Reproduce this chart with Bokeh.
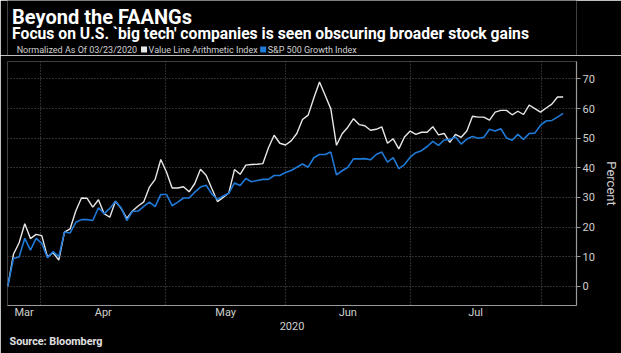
from bokeh.plotting import figure
from bokeh.models import Label, FixedTicker, Range1d, ColumnDataSource, Title
from bokeh.layouts import column
from bokeh.embed import file_html
from bokeh.resources import INLINE

# Trading-day series, normalized to 03/23/2020 (percent change)
value_line = [0, 10.8, 14.7, 21.1, 16.1, 17.5, 17.1, 9.9, 11.3, 8.8, 18.3, 19.4, 25.4, 29.8, 29.7,
              26.7, 29.2, 24.5, 23.3, 28.7, 26.3, 22.9, 25.4, 27.1, 28.5, 33.5,
              36.1, 42.8, 38.6, 33.2, 33.2, 33.6, 31.9, 34.7, 39.5, 37.5, 33.0, 28.6, 30.0, 31.5,
              39.4, 37.8, 40.9, 41.1, 41.2, 41.4, 46.8, 51.0, 48.3, 47.7, 49.1,
              51.6, 56.3, 57.8, 63.6, 69.0, 64.5, 59.9, 47.6, 51.5, 53.7, 56.6, 54.6, 54.2, 52.7,
              53.0, 53.8, 48.3, 49.8, 46.4, 50.4, 52.4, 51.3, 52.0, 52.0,
              53.9, 51.1, 51.6, 48.6, 51.3, 50.3, 52.4, 57.4, 57.1, 57.1, 56.1, 58.8, 59.4, 59.4,
              57.9, 59.1, 58.0, 61.2, 60.0, 58.8, 60.2, 61.5, 63.9, 63.9]
sp500_growth = [0, 9.4, 9.9, 16.2, 12.2, 16.2, 14.5, 9.6, 11.7, 10.0, 18.3, 18.0, 21.6, 22.5, 22.5,
                22.2, 26.5, 24.5, 26.3, 28.7, 26.5, 22.2, 25.3, 25.4, 27.0, 28.4,
                26.9, 31.0, 31.0, 27.2, 28.4, 29.8, 29.8, 31.8, 33.5, 34.1, 31.2, 29.3, 30.5, 31.4,
                34.9, 34.0, 36.4, 35.3, 35.7, 36.1, 36.1, 37.4, 37.4, 38.4, 39.1,
                40.2, 41.3, 40.2, 43.4, 44.5, 44.5, 45.3, 37.6, 39.0, 40.2, 43.0, 43.0, 43.1, 42.7,
                44.5, 45.3, 41.9, 43.4, 39.7, 41.1, 43.6, 45.1, 45.8, 47.2,
                48.9, 47.6, 49.4, 49.6, 50.4, 48.0, 49.7, 50.6, 50.0, 50.3, 53.0, 52.4, 53.2, 50.1,
                49.3, 51.3, 49.6, 51.6, 51.7, 54.4, 55.8, 56.0, 57.1, 58.4]
day_index = list(range(len(value_line)))

series_names = ["Value Line Arithmetic Index", "S&P 500 Growth Index"]
month_labels = ["Mar", "Apr", "May", "Jun", "Jul"]
month_bounds = [5.8, 27.9, 49.0, 71.0, 94.1]      # month boundaries (trading-day index)
y_ticks = [0, 10, 20, 30, 40, 50, 60, 70]

BG = "#000000"
WHITE_LINE = "#e8e8e8"
BLUE_LINE = "#1f79d6"
GRID = "#5a5a5a"
TXT = "#d0d0d0"
FONT = "Roboto"
W = 621

# ---------------- header (title, subtitle, legend) ----------------
HH = 55
hdr = figure(width=W, height=HH, output_backend="svg", toolbar_location=None,
             x_range=Range1d(0, W), y_range=Range1d(HH, 0),
             x_axis_type=None, y_axis_type=None, min_border=0)
hdr.background_fill_color = BG
hdr.border_fill_color = BG
hdr.outline_line_color = None
hdr.xgrid.visible = False
hdr.ygrid.visible = False

def put(fig, text, x, y, size, color, style="normal", baseline="alphabetic"):
    fig.add_layout(Label(x=x, y=y, text=text, text_font=FONT, text_font_size=size,
                         text_color=color, text_font_style=style, text_baseline=baseline))

put(hdr, "Beyond the FAANGs", 5, 16, "20px", "#ffffff", "bold")
put(hdr, "Focus on U.S. `big tech' companies is seen obscuring broader stock gains", 5, 33,
    "15.7px", "#ffffff", "bold")
put(hdr, "Normalized As Of 03/23/2020", 10, 49, "9px", TXT, baseline="middle")
hdr.scatter([149], [49], marker="square", size=6, fill_color=WHITE_LINE, line_color=None)
put(hdr, series_names[0], 154, 49, "9px", TXT, baseline="middle")
hdr.scatter([279], [49], marker="square", size=6, fill_color=BLUE_LINE, line_color=None)
put(hdr, series_names[1], 284, 49, "9px", TXT, baseline="middle")

# ---------------- main chart ----------------
x_start, x_end = -0.05, 100.35
starts = [x_start] + month_bounds[:-1]
month_centers = [(a + b) / 2 for a, b in zip(starts, month_bounds)]

p = figure(width=W, height=353 - HH, output_backend="svg", toolbar_location=None,
           x_range=Range1d(x_start, x_end), y_range=Range1d(-6.5, 75.9),
           y_axis_location="right",
           min_border_left=7, min_border_right=44, min_border_top=6, min_border_bottom=48)
p.background_fill_color = BG
p.border_fill_color = BG
p.outline_line_color = None

src = ColumnDataSource(dict(x=day_index, v=value_line, s=sp500_growth))
p.line("x", "v", source=src, line_color=WHITE_LINE, line_width=1.4)
p.line("x", "s", source=src, line_color=BLUE_LINE, line_width=1.6)

p.xgrid.ticker = FixedTicker(ticks=month_bounds)
p.ygrid.ticker = FixedTicker(ticks=y_ticks)
for g in (p.xgrid, p.ygrid):
    g.grid_line_color = GRID
    g.grid_line_dash = "1 2"
    g.grid_line_width = 1

xa = p.xaxis[0]
xa.ticker = FixedTicker(ticks=month_centers)
xa.major_label_overrides = {c: m for c, m in zip(month_centers, month_labels)}
xa.major_tick_out = 0
xa.major_tick_in = 0
xa.minor_tick_out = 0
xa.minor_tick_in = 0
xa.axis_line_color = "#9a9a9a"
xa.axis_line_width = 1.2
xa.major_label_text_color = TXT
xa.major_label_text_font = FONT
xa.major_label_text_font_size = "11px"
xa.major_label_standoff = 0
xa.axis_label = "2020"
xa.axis_label_text_color = TXT
xa.axis_label_text_font = FONT
xa.axis_label_text_font_size = "11px"
xa.axis_label_text_font_style = "normal"
xa.axis_label_standoff = 0

ya = p.yaxis[0]
ya.ticker = FixedTicker(ticks=y_ticks)
ya.major_tick_out = 4
ya.major_tick_in = 0
ya.minor_tick_out = 0
ya.minor_tick_in = 0
ya.axis_line_color = "#9a9a9a"
ya.axis_line_width = 1.2
ya.major_tick_line_color = "#9a9a9a"
ya.major_label_text_color = TXT
ya.major_label_text_font = FONT
ya.major_label_text_font_size = "11px"
ya.major_label_standoff = 2
ya.axis_label = "Percent"
ya.axis_label_text_color = TXT
ya.axis_label_text_font = FONT
ya.axis_label_text_font_size = "13px"
ya.axis_label_text_font_style = "normal"
ya.axis_label_standoff = 6

p.add_layout(Title(text="Source: Bloomberg", align="left", text_font=FONT,
                   text_font_size="10.8px", text_font_style="bold", text_color="#e0e0e0",
                   offset=2, standoff=0), "below")

open("out.html", "w").write(file_html(column(hdr, p, spacing=0), INLINE))
